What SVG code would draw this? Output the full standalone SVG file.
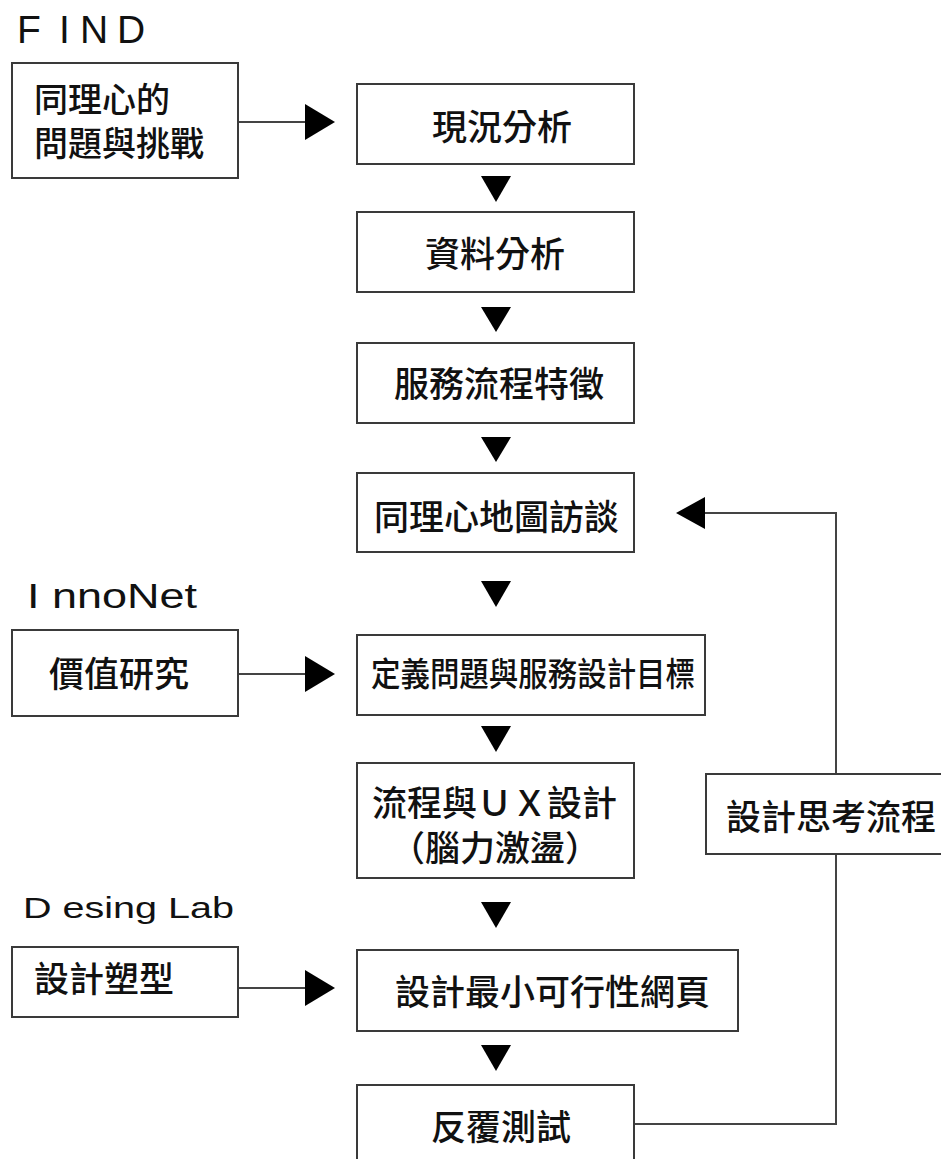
<svg xmlns="http://www.w3.org/2000/svg" width="941" height="1159" viewBox="0 0 941 1159">
  <style>
    .box { fill: #ffffff; stroke: #3a3a3a; stroke-width: 2; }
    .wire { fill: none; stroke: #444444; stroke-width: 2; }
    .head { fill: #000000; }
    .cjk { font-family: "Noto Sans CJK TC", "Noto Sans CJK SC", sans-serif; font-size: 35px; font-weight: 500; fill: #111111; }
    .cjk.s34 { font-size: 34px; }
    .cjk.s33 { font-size: 33px; }
    .tag { font-family: "Liberation Sans", Arial, sans-serif; fill: #111111; }
  </style>

  <rect x="0" y="0" width="941" height="1159" fill="#ffffff"/>

  <!-- section captions -->
  <g id="captions">
    <text class="tag" font-size="39" x="17 59 80 117" y="43">FIND</text>
    <text class="tag" font-size="35" x="27" y="608" textLength="170" lengthAdjust="spacingAndGlyphs">I nnoNet</text>
    <text class="tag" font-size="29" x="23" y="918" textLength="211" lengthAdjust="spacingAndGlyphs">D esing Lab</text>
  </g>

  <!-- connectors: side inputs, main flow arrows, feedback loop -->
  <g id="connectors">
    <line class="wire" x1="238" y1="122" x2="307" y2="122"/>
    <polygon class="head" points="305,104 335,122 305,140"/>

    <line class="wire" x1="238" y1="674" x2="307" y2="674"/>
    <polygon class="head" points="305,656 335,674 305,692"/>

    <line class="wire" x1="238" y1="988" x2="307" y2="988"/>
    <polygon class="head" points="305,970 335,988 305,1006"/>

    <polygon class="head" points="481,176 511,176 496,202"/>
    <polygon class="head" points="481,307 511,307 496,332"/>
    <polygon class="head" points="481,437 511,437 496,462"/>
    <polygon class="head" points="481,581 511,581 496,607"/>
    <polygon class="head" points="481,726 511,726 496,752"/>
    <polygon class="head" points="481,902 511,902 496,928"/>
    <polygon class="head" points="481,1045 511,1045 496,1071"/>

    <polyline class="wire" points="634,1124 836,1124 836,513 703,513"/>
    <polygon class="head" points="705,497 676,513 705,529"/>
  </g>

  <g id="node-empathy-challenge">
    <rect class="box" x="12" y="63" width="226" height="115"/>
    <text class="cjk s34"><tspan x="34" y="112">同理心的</tspan><tspan x="34" y="156">問題與挑戰</tspan></text>
  </g>

  <g id="node-status">
    <rect class="box" x="357" y="84" width="277" height="80"/>
    <text class="cjk" x="432" y="140">現況分析</text>
  </g>

  <g id="node-data">
    <rect class="box" x="357" y="212" width="277" height="80"/>
    <text class="cjk" x="425" y="267">資料分析</text>
  </g>

  <g id="node-service-flow">
    <rect class="box" x="357" y="343" width="277" height="80"/>
    <text class="cjk" x="394" y="397">服務流程特徵</text>
  </g>

  <g id="node-empathy-map">
    <rect class="box" x="357" y="473" width="277" height="79"/>
    <text class="cjk" x="374" y="530">同理心地圖訪談</text>
  </g>

  <g id="node-value">
    <rect class="box" x="12" y="630" width="226" height="86"/>
    <text class="cjk" x="49" y="687">價值研究</text>
  </g>

  <g id="node-define">
    <rect class="box" x="357" y="635" width="348" height="80"/>
    <text class="cjk s33" x="371" y="686" textLength="324" lengthAdjust="spacingAndGlyphs">定義問題與服務設計目標</text>
  </g>

  <g id="node-ux">
    <rect class="box" x="357" y="763" width="277" height="115"/>
    <text class="cjk"><tspan x="372" y="816">流程與ＵＸ設計</tspan><tspan x="390" y="861">（腦力激盪）</tspan></text>
  </g>

  <g id="node-design-thinking">
    <rect class="box" x="706" y="774" width="245" height="80"/>
    <text class="cjk" x="726" y="830">設計思考流程</text>
  </g>

  <g id="node-prototype">
    <rect class="box" x="12" y="947" width="226" height="70"/>
    <text class="cjk" x="34" y="992">設計塑型</text>
  </g>

  <g id="node-mvp">
    <rect class="box" x="357" y="950" width="381" height="81"/>
    <text class="cjk" x="395" y="1005">設計最小可行性網頁</text>
  </g>

  <g id="node-testing">
    <rect class="box" x="357" y="1085" width="277" height="90"/>
    <text class="cjk" x="431" y="1140">反覆測試</text>
  </g>
</svg>
